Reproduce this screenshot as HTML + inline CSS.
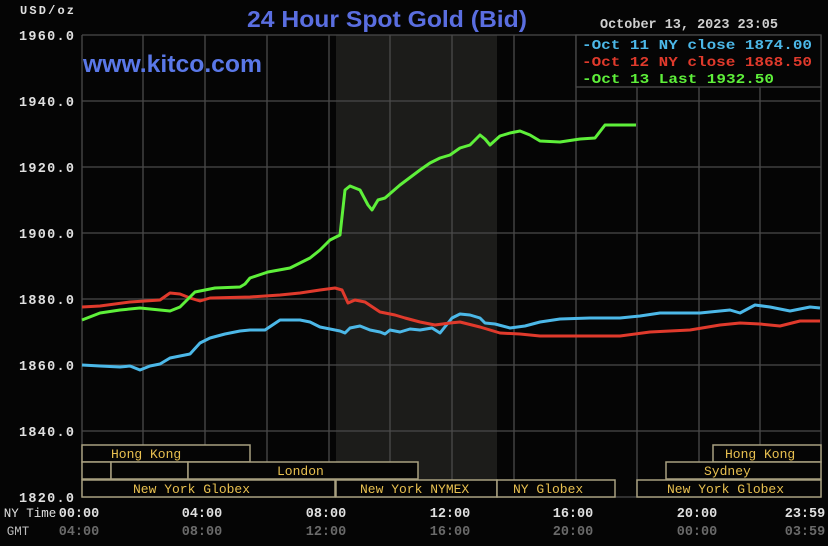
<!DOCTYPE html>
<html><head><meta charset="utf-8"><style>
html,body{margin:0;padding:0;background:#050505;}
svg{display:block}
.m{font-family:"Liberation Mono",monospace;font-weight:bold;font-size:13.5px;}
.s{font-family:"Liberation Mono",monospace;font-size:13px;fill:#e8c050;}
</style></head><body>
<svg width="828" height="546" viewBox="0 0 828 546" xmlns="http://www.w3.org/2000/svg">
<rect width="828" height="546" fill="#050505"/>
<rect x="336" y="35" width="161" height="462" fill="#1c1c1a"/>
<g stroke="#4a4a4a" stroke-width="1.3">
<line x1="82" y1="35" x2="821" y2="35"/><line x1="82" y1="101" x2="821" y2="101"/><line x1="82" y1="167" x2="821" y2="167"/><line x1="82" y1="233" x2="821" y2="233"/><line x1="82" y1="299" x2="821" y2="299"/><line x1="82" y1="365" x2="821" y2="365"/><line x1="82" y1="431" x2="821" y2="431"/><line x1="82" y1="497" x2="821" y2="497"/>
<line x1="82" y1="35" x2="82" y2="497"/><line x1="143" y1="35" x2="143" y2="497"/><line x1="205" y1="35" x2="205" y2="497"/><line x1="267" y1="35" x2="267" y2="497"/><line x1="329" y1="35" x2="329" y2="497"/><line x1="390" y1="35" x2="390" y2="497"/><line x1="452" y1="35" x2="452" y2="497"/><line x1="514" y1="35" x2="514" y2="497"/><line x1="576" y1="35" x2="576" y2="497"/><line x1="637" y1="35" x2="637" y2="497"/><line x1="699" y1="35" x2="699" y2="497"/><line x1="760" y1="35" x2="760" y2="497"/><line x1="821" y1="35" x2="821" y2="497"/>
</g>
<text x="247" y="27" textLength="280" lengthAdjust="spacingAndGlyphs" font-family="Liberation Sans,sans-serif" font-weight="bold" font-size="23" fill="#5a6ee0">24 Hour Spot Gold (Bid)</text>
<text x="83" y="72" textLength="179" lengthAdjust="spacingAndGlyphs" font-family="Liberation Sans,sans-serif" font-weight="bold" font-size="24" fill="#5a78e8">www.kitco.com</text>
<text x="600" y="28" class="m" fill="#d0d0d0" font-weight="normal" textLength="178">October 13, 2023 23:05</text>
<rect x="576" y="35" width="245" height="52" fill="#050505" stroke="#4a4a4a" stroke-width="1.3"/>
<text x="582" y="49" class="m" font-size="14.5" fill="#4cb8e8" textLength="230" lengthAdjust="spacingAndGlyphs">-Oct 11 NY close 1874.00</text>
<text x="582" y="66" class="m" font-size="14.5" fill="#e03a2c" textLength="230" lengthAdjust="spacingAndGlyphs">-Oct 12 NY close 1868.50</text>
<text x="582" y="83" class="m" font-size="14.5" fill="#5ef03a" textLength="192" lengthAdjust="spacingAndGlyphs">-Oct 13 Last 1932.50</text>
<g class="m" fill="#e0e0e0">
<text x="20" y="14" font-size="12" textLength="54">USD/oz</text>
<text x="19" y="40" textLength="55">1960.0</text><text x="19" y="106" textLength="55">1940.0</text><text x="19" y="172" textLength="55">1920.0</text><text x="19" y="238" textLength="55">1900.0</text><text x="19" y="304" textLength="55">1880.0</text><text x="19" y="370" textLength="55">1860.0</text><text x="19" y="436" textLength="55">1840.0</text><text x="19" y="502" textLength="55">1820.0</text>
</g>
<g fill="none" stroke-width="3" stroke-linejoin="round">
<polyline stroke="#4cb8e8" points="82,365 100,366 120,367 130,366 140,370 150,366 160,364 170,358 190,354 200,343 210,338 225,334 240,331 250,330 265,330 280,320 300,320 310,322 320,327 330,329 340,331 345,333 350,328 360,326 370,330 380,332 385,334 390,330 400,332 410,329 420,330 432,328 440,333 452,318 460,314 470,315 480,318 485,323 495,324 510,328 525,326 540,322 560,319 590,318 620,318 640,316 660,313 700,313 730,310 740,313 755,305 770,307 790,311 810,307 820,308"/>
<polyline stroke="#e03a2c" points="82,307 100,306 130,302 160,300 170,293 180,294 190,298 200,301 210,298 250,297 280,295 300,293 320,290 335,288 342,290 348,303 355,300 365,302 380,312 395,315 405,318 420,322 435,325 450,323 460,322 480,327 500,333 520,334 540,336 580,336 620,336 650,332 690,330 720,325 740,323 760,324 780,326 800,321 820,321"/>
<polyline stroke="#5ef03a" points="82,320 100,313 120,310 140,308 160,310 170,311 180,307 195,292 215,288 240,287 245,284 250,278 268,272 290,268 310,258 320,250 330,240 340,235 345,190 350,186 360,190 368,205 372,210 378,200 385,198 400,185 420,170 430,163 440,158 450,155 460,148 470,145 480,135 485,139 490,145 500,136 510,133 520,131 530,135 540,141 560,142 580,139 595,138 605,125 636,125"/>
</g>
<g fill="#050505" stroke="#a8a080" stroke-width="1.5">
<rect x="82" y="445" width="168" height="17"/><rect x="713" y="445" width="108" height="17"/>
<rect x="82" y="462" width="29" height="17"/><rect x="111" y="462" width="77" height="17"/><rect x="188" y="462" width="230" height="17"/><rect x="666" y="462" width="155" height="17"/>
<rect x="82" y="480" width="253" height="17"/><rect x="336" y="480" width="161" height="17"/><rect x="497" y="480" width="118" height="17"/><rect x="637" y="480" width="184" height="17"/>
</g>
<g class="s">
<text x="111" y="458">Hong Kong</text><text x="725" y="458">Hong Kong</text>
<text x="277" y="475">London</text><text x="704" y="475">Sydney</text>
<text x="133" y="493">New York Globex</text><text x="360" y="493">New York NYMEX</text><text x="513" y="493">NY Globex</text><text x="667" y="493">New York Globex</text>
</g>
<g class="m" fill="#e0e0e0" text-anchor="middle" font-size="15">
<text x="30" y="517" font-weight="normal" font-size="12.5">NY Time</text>
<text x="79" y="517">00:00</text><text x="202" y="517">04:00</text><text x="326" y="517">08:00</text><text x="450" y="517">12:00</text><text x="573" y="517">16:00</text><text x="697" y="517">20:00</text><text x="805" y="517">23:59</text>
</g>
<g class="m" fill="#6a6a6a" text-anchor="middle" font-size="15">
<text x="18" y="535" font-weight="normal" font-size="12.5" fill="#bbb">GMT</text>
<text x="79" y="535">04:00</text><text x="202" y="535">08:00</text><text x="326" y="535">12:00</text><text x="450" y="535">16:00</text><text x="573" y="535">20:00</text><text x="697" y="535">00:00</text><text x="805" y="535">03:59</text>
</g>
</svg>
</body></html>
